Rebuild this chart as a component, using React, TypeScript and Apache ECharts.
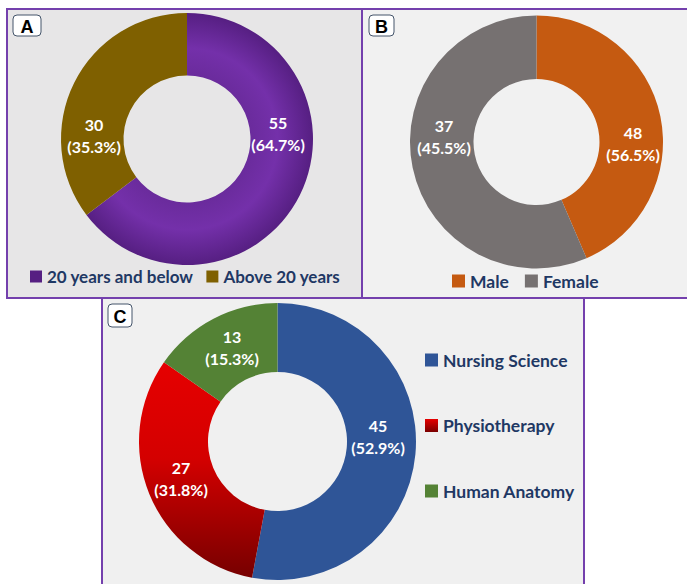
import React, { useEffect, useRef } from "react";
import * as echarts from "echarts";

// Panel A: age groups
const ageNames = ["20 years and below", "Above 20 years"];
const ageValues = [55, 30];
const agePct = ["64.7%", "35.3%"];

// Panel B: gender (slice sizes as drawn in the picture; labels as printed)
const genderNames = ["Male", "Female"];
const genderSliceValues = [37, 48];
const genderLabels = ["48", "37"];
const genderPct = ["56.5%", "45.5%"];

// Panel C: programme
const progNames = ["Nursing Science", "Physiotherapy", "Human Anatomy"];
const progValues = [45, 27, 13];
const progPct = ["52.9%", "31.8%", "15.3%"];

const FONT = "Lato, 'Open Sans', sans-serif";
const NAVY = "#1f3864";
const BORDER = "#7440ad";

const labelPosA = [[278, 133], [94, 135]];
const labelPosB = [[633, 143], [444, 136]];
const labelPosC = [[378, 436.5], [181, 478.5], [232, 347]];

const labelStyle = {
  show: true,
  position: "inside",
  color: "#ffffff",
  fontFamily: FONT,
  fontWeight: "bold",
  fontSize: 16,
  lineHeight: 22,
  align: "center",
};

function boxLabel(x: number, y: number, w: number, h: number, t: string) {
  return [
    {
      type: "rect",
      shape: { x, y, width: w, height: h, r: 4 },
      style: { fill: "#ffffff", stroke: "#44546a", lineWidth: 1 },
      z: 5,
    },
    {
      type: "text",
      x: x + w / 2,
      y: y + h / 2 + 1,
      style: {
        text: t,
        fill: "#000000",
        font: "bold 18px 'Liberation Sans', Arial, sans-serif",
        align: "center",
        verticalAlign: "middle",
      },
      z: 6,
    },
  ];
}

export default function App() {
  const ref = useRef<HTMLDivElement>(null);
  useEffect(() => {
    if (!ref.current) return;
    const chart = echarts.init(ref.current, undefined, { renderer: "svg" });
    const layoutFor = (pos: number[][]) => (params: any) => ({
      x: pos[params.dataIndex][0],
      y: pos[params.dataIndex][1],
      align: "center",
      verticalAlign: "middle",
    });
    const legendText = {
      color: NAVY,
      fontFamily: FONT,
      fontWeight: "bold",
      fontSize: 17,
    };
    chart.setOption({
      animation: false,
      backgroundColor: "#ffffff",
      graphic: [
        {
          type: "rect",
          shape: { x: 7, y: 9, width: 355, height: 289 },
          style: { fill: "#e7e6e7", stroke: BORDER, lineWidth: 2 },
          z: 0,
        },
        {
          type: "rect",
          shape: { x: 362, y: 9, width: 340, height: 289 },
          style: { fill: "#f1f1f1", stroke: BORDER, lineWidth: 2 },
          z: 0,
        },
        {
          type: "rect",
          shape: { x: 102, y: 298, width: 482, height: 300 },
          style: { fill: "#f0f0f0", stroke: BORDER, lineWidth: 2 },
          z: 0,
        },
        ...boxLabel(13, 15, 28, 21, "A"),
        ...boxLabel(369, 15, 25, 21, "B"),
        ...boxLabel(108, 304, 24, 23, "C"),
      ],
      legend: [
        {
          data: ageNames,
          left: 30,
          top: 268,
          padding: 0,
          itemWidth: 12,
          itemHeight: 12,
          itemGap: 13,
          icon: "rect",
          textStyle: legendText,
        },
        {
          data: genderNames,
          left: 452,
          top: 272,
          padding: 0,
          itemWidth: 13,
          itemHeight: 13,
          itemGap: 16,
          icon: "rect",
          textStyle: { ...legendText, fontSize: 17.5 },
        },
        {
          data: progNames.map((n, i) =>
            i === 1
              ? {
                  name: n,
                  itemStyle: {
                    color: {
                      type: "linear",
                      x: 0, y: 0, x2: 0, y2: 1,
                      colorStops: [
                        { offset: 0, color: "#e60000" },
                        { offset: 1, color: "#7a0000" },
                      ],
                    },
                  },
                }
              : { name: n }
          ),
          orient: "vertical",
          left: 425,
          top: 351,
          padding: 0,
          itemWidth: 13,
          itemHeight: 13,
          itemGap: 47.5,
          icon: "rect",
          textStyle: { ...legendText, fontSize: 17.5 },
        },
      ],
      series: [
        {
          type: "pie",
          center: [187, 139],
          radius: [63.5, 126],
          startAngle: 90,
          clockwise: true,
          avoidLabelOverlap: false,
          label: {
            ...labelStyle,
            formatter: (p: any) => `${ageValues[p.dataIndex]}\n(${agePct[p.dataIndex]})`,
          },
          labelLine: { show: false },
          labelLayout: layoutFor(labelPosA),
          data: ageNames.map((n, i) => ({
            name: n,
            value: ageValues[i],
            itemStyle: {
              color:
                i === 0
                  ? {
                      type: "radial",
                      x: 187, y: 139, r: 126, global: true,
                      colorStops: [
                        { offset: 0.5, color: "#6a2b9c" },
                        { offset: 0.72, color: "#7430aa" },
                        { offset: 1, color: "#561f82" },
                      ],
                    }
                  : "#7f6000",
            },
          })),
          legendHoverLink: false,
        },
        {
          type: "pie",
          center: [536.5, 142],
          radius: [63, 126.5],
          startAngle: 90,
          clockwise: true,
          avoidLabelOverlap: false,
          label: {
            ...labelStyle,
            formatter: (p: any) => `${genderLabels[p.dataIndex]}\n(${genderPct[p.dataIndex]})`,
          },
          labelLine: { show: false },
          labelLayout: layoutFor(labelPosB),
          data: genderNames.map((n, i) => ({
            name: n,
            value: genderSliceValues[i],
            itemStyle: { color: i === 0 ? "#c55a11" : "#767171" },
          })),
        },
        {
          type: "pie",
          center: [277.5, 441.5],
          radius: [69.5, 138.5],
          startAngle: 90,
          clockwise: true,
          avoidLabelOverlap: false,
          label: {
            ...labelStyle,
            formatter: (p: any) => `${progValues[p.dataIndex]}\n(${progPct[p.dataIndex]})`,
          },
          labelLine: { show: false },
          labelLayout: layoutFor(labelPosC),
          data: progNames.map((n, i) => ({
            name: n,
            value: progValues[i],
            itemStyle: {
              color:
                i === 0
                  ? "#2f5597"
                  : i === 1
                  ? {
                      type: "linear",
                      x: 0, y: 360, x2: 0, y2: 578, global: true,
                      colorStops: [
                        { offset: 0, color: "#e60000" },
                        { offset: 0.45, color: "#d40000" },
                        { offset: 1, color: "#760000" },
                      ],
                    }
                  : "#548235",
            },
          })),
        },
      ],
    });
    return () => chart.dispose();
  }, []);
  return (
    <div
      ref={ref}
      style={{ position: "absolute", left: 0, top: 0, width: 687, height: 584 }}
    />
  );
}
